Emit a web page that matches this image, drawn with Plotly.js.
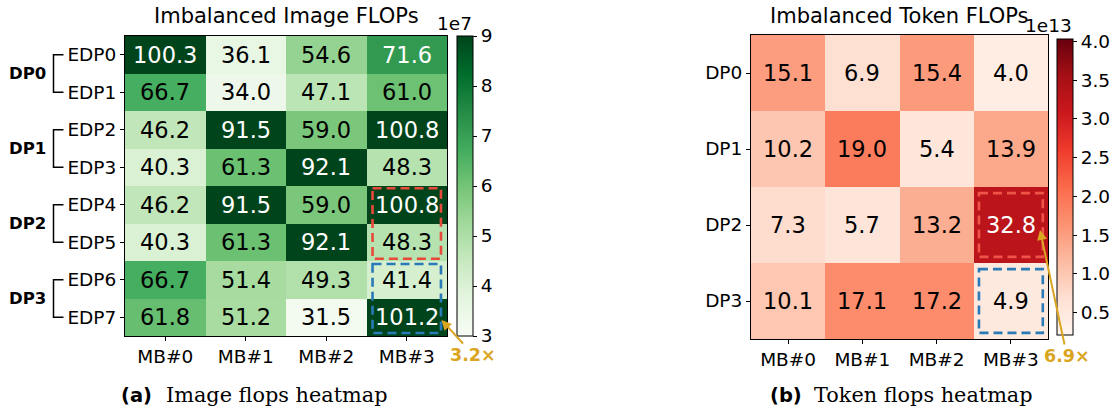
<!DOCTYPE html>
<html><head><meta charset="utf-8">
<script src="https://cdn.plot.ly/plotly-3.0.1.min.js"></script>
<style>html,body{margin:0;padding:0;background:#fff}#chart{width:1112px;height:416px}</style>
</head><body><div id="chart"></div>
<script>
// ---- data ----
const imgCols = ['MB#0', 'MB#1', 'MB#2', 'MB#3'];
const imgRows = ['EDP0', 'EDP1', 'EDP2', 'EDP3', 'EDP4', 'EDP5', 'EDP6', 'EDP7'];
const imgGroups = ['DP0', 'DP1', 'DP2', 'DP3'];
const imgVals = [
  [100.3, 36.1, 54.6, 71.6],
  [66.7, 34.0, 47.1, 61.0],
  [46.2, 91.5, 59.0, 100.8],
  [40.3, 61.3, 92.1, 48.3],
  [46.2, 91.5, 59.0, 100.8],
  [40.3, 61.3, 92.1, 48.3],
  [66.7, 51.4, 49.3, 41.4],
  [61.8, 51.2, 31.5, 101.2]
];
const imgTicks = [3, 4, 5, 6, 7, 8, 9];
const imgTickText = ['3', '4', '5', '6', '7', '8', '9'];
const imgExp = '1e7';
const imgRatio = '3.2×';

const tokCols = ['MB#0', 'MB#1', 'MB#2', 'MB#3'];
const tokRows = ['DP0', 'DP1', 'DP2', 'DP3'];
const tokVals = [
  [15.1, 6.9, 15.4, 4.0],
  [10.2, 19.0, 5.4, 13.9],
  [7.3, 5.7, 13.2, 32.8],
  [10.1, 17.1, 17.2, 4.9]
];
const tokTicks = [0.5, 1.0, 1.5, 2.0, 2.5, 3.0, 3.5, 4.0];
const tokTickText = ['0.5', '1.0', '1.5', '2.0', '2.5', '3.0', '3.5', '4.0'];
const tokExp = '1e13';
const tokRatio = '6.9×';

const titleA = 'Imbalanced Image FLOPs';
const titleB = 'Imbalanced Token FLOPs';
const capA = ['(a)', 'Image flops heatmap'];
const capB = ['(b)', 'Token flops heatmap'];

// ---- styling ----
const W = 1112, H = 416;
const px = v => v / W;
const py = v => 1 - v / H;
const FONT = 'DejaVu Sans';
const greens = [[0,'#f7fcf5'],[0.125,'#e5f5e0'],[0.25,'#c7e9c0'],[0.375,'#a1d99b'],[0.5,'#74c476'],[0.625,'#41ab5d'],[0.75,'#238b45'],[0.875,'#006d2c'],[1,'#00441b']];
const reds = [[0,'#fff5f0'],[0.125,'#fee0d2'],[0.25,'#fcbba1'],[0.375,'#fc9272'],[0.5,'#fb6a4a'],[0.625,'#ef3b2c'],[0.75,'#cb181d'],[0.875,'#a50f15'],[1,'#67000d']];
const GOLD = '#DAA520', RED = '#E8493B', BLUE = '#2A7AB8';

const idx = a => a.map((_, i) => i);

const traces = [
  {
    type: 'heatmap', xaxis: 'x', yaxis: 'y',
    x: idx(imgCols), y: idx(imgRows),
    z: imgVals.map(r => r.map(v => v * 1e6)),
    zmin: 3e7, zmax: 9e7, colorscale: greens, hoverinfo: 'skip',
    colorbar: {
      x: px(456.5), xanchor: 'left', y: py(186), yanchor: 'middle',
      len: 300 / H, lenmode: 'fraction', thickness: 16, thicknessmode: 'pixels',
      xpad: 0, ypad: 0, outlinewidth: 1, outlinecolor: '#000', borderwidth: 0,
      ticks: 'outside', ticklen: 4, tickcolor: '#000',
      tickvals: imgTicks.map(v => v * 1e7), ticktext: imgTickText,
      tickfont: {family: FONT, size: 18.5, color: '#000'}
    }
  },
  {
    type: 'heatmap', xaxis: 'x2', yaxis: 'y2',
    x: idx(tokCols), y: idx(tokRows),
    z: tokVals.map(r => r.map(v => v * 1e12)),
    zmin: 0.21e13, zmax: 4.03e13, colorscale: reds, hoverinfo: 'skip',
    colorbar: {
      x: px(1057), xanchor: 'left', y: py(187), yanchor: 'middle',
      len: 296 / H, lenmode: 'fraction', thickness: 16, thicknessmode: 'pixels',
      xpad: 0, ypad: 0, outlinewidth: 1, outlinecolor: '#000', borderwidth: 0,
      ticks: 'outside', ticklen: 4, tickcolor: '#000',
      tickvals: tokTicks.map(v => v * 1e13), ticktext: tokTickText,
      tickfont: {family: FONT, size: 18.5, color: '#000'}
    }
  }
];

const axBase = {
  showgrid: false, zeroline: false, showline: true, mirror: true,
  linecolor: '#000', linewidth: 1, ticks: 'outside', ticklen: 4, tickcolor: '#000',
  tickfont: {family: FONT, size: 18.5, color: '#000'}, fixedrange: true
};

const annotations = [];
const shapes = [];

// cell labels
imgVals.forEach((row, i) => row.forEach((v, j) => annotations.push({
  xref: 'x', yref: 'y', x: j, y: i, text: v.toFixed(1), showarrow: false,
  font: {family: FONT, size: 22.5, color: v > 70 ? '#fff' : '#000'}
})));
tokVals.forEach((row, i) => row.forEach((v, j) => annotations.push({
  xref: 'x2', yref: 'y2', x: j, y: i, text: v.toFixed(1), showarrow: false,
  font: {family: FONT, size: 22.5, color: v > 25 ? '#fff' : '#000'}
})));

// titles
annotations.push({xref: 'paper', yref: 'paper', x: px(286), y: py(16), xanchor: 'center', yanchor: 'middle', text: titleA, showarrow: false, font: {family: FONT, size: 21, color: '#000'}});
annotations.push({xref: 'paper', yref: 'paper', x: px(899.5), y: py(16), xanchor: 'center', yanchor: 'middle', text: titleB, showarrow: false, font: {family: FONT, size: 21, color: '#000'}});
// exponents
annotations.push({xref: 'paper', yref: 'paper', x: px(474), y: py(36), xanchor: 'right', yanchor: 'bottom', text: imgExp, showarrow: false, font: {family: FONT, size: 18.5, color: '#000'}});
annotations.push({xref: 'paper', yref: 'paper', x: px(1074), y: py(38), xanchor: 'right', yanchor: 'bottom', text: tokExp, showarrow: false, font: {family: FONT, size: 18.5, color: '#000'}});

// DP group brackets and labels
imgGroups.forEach((g, k) => {
  const r0 = 2 * k, r1 = 2 * k + 1;
  shapes.push({type: 'path', xref: 'paper', yref: 'y',
    path: `M ${px(63.5)},${r0} L ${px(53.5)},${r0} L ${px(53.5)},${r1} L ${px(63.5)},${r1}`,
    line: {color: '#000', width: 1.5}});
  annotations.push({xref: 'paper', yref: 'y', x: px(48), y: (r0 + r1) / 2, xanchor: 'right',
    text: '<b>' + g + '</b>', showarrow: false, font: {family: FONT, size: 16.5, color: '#000'}});
});

// dashed highlight boxes
function box(xr, yr, col, row0, row1, ix, iy, color) {
  shapes.push({type: 'rect', xref: xr, yref: yr,
    x0: col - 0.5 + ix, x1: col + 0.5 - ix, y0: row0 - 0.5 + iy, y1: row1 + 0.5 - iy,
    line: {color: color, width: 2.6, dash: '9px,5px'}});
}
box('x', 'y', 3, 4, 5, 0.075, 0.06, RED);
box('x', 'y', 3, 6, 7, 0.075, 0.08, BLUE);
box('x2', 'y2', 3, 2, 2, 0.07, 0.08, '#EE5548');
box('x2', 'y2', 3, 3, 3, 0.07, 0.08, BLUE);

// ratio arrows
annotations.push({xref: 'paper', yref: 'paper', x: px(441.5), y: py(320), ax: 32, ay: 35,
  text: '<b>' + imgRatio + '</b>', showarrow: true, arrowhead: 2, arrowsize: 1, arrowwidth: 2,
  arrowcolor: GOLD, standoff: 0, font: {family: FONT, size: 17.5, color: GOLD}});
annotations.push({xref: 'paper', yref: 'paper', x: px(1040), y: py(230), ax: 27, ay: 126,
  text: '<b>' + tokRatio + '</b>', showarrow: true, arrowhead: 2, arrowsize: 1, arrowwidth: 2,
  arrowcolor: GOLD, standoff: 0, font: {family: FONT, size: 17.5, color: GOLD}});

// captions
annotations.push({xref: 'paper', yref: 'paper', x: px(136), y: py(395), xanchor: 'center', yanchor: 'middle', text: '<b>' + capA[0] + '</b>', showarrow: false, font: {family: FONT, size: 19.5, color: '#000'}});
annotations.push({xref: 'paper', yref: 'paper', x: px(164), y: py(395), xanchor: 'left', yanchor: 'middle', text: capA[1], showarrow: false, font: {family: 'DejaVu Serif', size: 20.8, color: '#000'}});
annotations.push({xref: 'paper', yref: 'paper', x: px(786), y: py(395), xanchor: 'center', yanchor: 'middle', text: '<b>' + capB[0] + '</b>', showarrow: false, font: {family: FONT, size: 19.5, color: '#000'}});
annotations.push({xref: 'paper', yref: 'paper', x: px(812), y: py(395), xanchor: 'left', yanchor: 'middle', text: capB[1], showarrow: false, font: {family: 'DejaVu Serif', size: 20.8, color: '#000'}});

const layout = {
  width: W, height: H, margin: {l: 0, r: 0, t: 0, b: 0},
  paper_bgcolor: '#fff', plot_bgcolor: '#fff', showlegend: false,
  xaxis: Object.assign({}, axBase, {domain: [px(125), px(447)], anchor: 'y', range: [-0.5, 3.5], tickvals: idx(imgCols), ticktext: imgCols}),
  yaxis: Object.assign({}, axBase, {domain: [py(336), py(36)], anchor: 'x', range: [7.5, -0.5], tickvals: idx(imgRows), ticktext: imgRows}),
  xaxis2: Object.assign({}, axBase, {domain: [px(751), px(1048)], anchor: 'y2', range: [-0.5, 3.5], tickvals: idx(tokCols), ticktext: tokCols}),
  yaxis2: Object.assign({}, axBase, {domain: [py(339), py(35)], anchor: 'x2', range: [3.5, -0.5], tickvals: idx(tokRows), ticktext: tokRows}),
  annotations: annotations, shapes: shapes
};

Plotly.newPlot('chart', traces, layout, {displayModeBar: false, staticPlot: true});
</script>
</body></html>
